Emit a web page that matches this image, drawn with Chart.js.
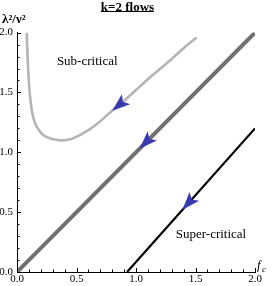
<!DOCTYPE html>
<html>
<head>
<meta charset="utf-8">
<script src="https://cdn.jsdelivr.net/npm/chart.js@4.4.0/dist/chart.umd.min.js"></script>
<style>
  html, body { margin: 0; padding: 0; background: #fff; }
  canvas { display: block; }
</style>
</head>
<body>
<canvas id="flows" width="273" height="286"></canvas>
<script>
// sub-critical flow (light grey curve)
const subX = [0.082, 0.088, 0.096, 0.105, 0.115, 0.13, 0.15, 0.18, 0.22, 0.27, 0.33, 0.38, 0.45, 0.52, 0.60, 0.70, 0.78, 0.90, 1.00, 1.10, 1.20, 1.30, 1.40, 1.51];
const subY = [2.00, 1.82, 1.65, 1.52, 1.42, 1.32, 1.25, 1.19, 1.145, 1.12, 1.105, 1.10, 1.11, 1.14, 1.185, 1.26, 1.33, 1.43, 1.52, 1.61, 1.695, 1.78, 1.87, 1.96];
// critical flow (thick dark grey line)
const critX = [0, 2.0];
const critY = [0, 2.0];
// super-critical flow (black line)
const superX = [0.925, 2.0];
const superY = [0, 1.2];

const tickVals = [0, 0.5, 1, 1.5, 2];
const tickLabels = ['0.0', '0.5', '1.0', '1.5', '2.0'];

// arrowheads: which series, and f_c of the tip
const arrowSeries = [0, 1, 2];
const arrowAt = [0.80, 1.03, 1.39];

const regionNames = ['Sub-critical', 'Super-critical'];
const regionX = [0.59, 1.63];
const regionY = [1.76, 0.31];

const serif = "'Liberation Serif', 'Times New Roman', serif";
const series = [[subX, subY], [critX, critY], [superX, superY]];
const pts = (xs, ys) => xs.map((x, i) => ({ x: x, y: ys[i] }));

function valueAt(xs, ys, f) {
    for (let i = 0; i < xs.length - 1; i++) {
        if (f >= xs[i] && f <= xs[i + 1]) {
            const t = (f - xs[i]) / (xs[i + 1] - xs[i]);
            return ys[i] + t * (ys[i + 1] - ys[i]);
        }
    }
    return ys[ys.length - 1];
}

const axesAndMarks = {
    id: 'axesAndMarks',
    afterDatasetsDraw(chart) {
        const ctx = chart.ctx;
        const xs = chart.scales.x, ys = chart.scales.y;
        ctx.save();
        // arrowheads pointing down the flow
        ctx.fillStyle = '#3a3aae';
        arrowSeries.forEach((s, k) => {
            const [sx, sy] = series[s];
            const f = arrowAt[k];
            const tx = xs.getPixelForValue(f), ty = ys.getPixelForValue(valueAt(sx, sy, f));
            const bx = xs.getPixelForValue(f + 0.08), by = ys.getPixelForValue(valueAt(sx, sy, f + 0.08));
            let ux = bx - tx, uy = by - ty;
            const len = Math.hypot(ux, uy);
            ux /= len; uy /= len;
            const nx = -uy, ny = ux;
            const L = 18, W = 13, N = 14;
            ctx.beginPath();
            ctx.moveTo(tx, ty);
            ctx.lineTo(tx + ux * L + nx * W / 2, ty + uy * L + ny * W / 2);
            ctx.lineTo(tx + ux * N, ty + uy * N);
            ctx.lineTo(tx + ux * L - nx * W / 2, ty + uy * L - ny * W / 2);
            ctx.closePath();
            ctx.fill();
        });
        // region labels
        ctx.fillStyle = '#000';
        ctx.font = '13px ' + serif;
        ctx.textAlign = 'center';
        ctx.textBaseline = 'middle';
        regionNames.forEach((name, i) => {
            ctx.fillText(name, xs.getPixelForValue(regionX[i]), ys.getPixelForValue(regionY[i]));
        });
        ctx.restore();
    },
    afterDraw(chart) {
        const ctx = chart.ctx;
        const xs = chart.scales.x, ys = chart.scales.y;
        const x0 = xs.getPixelForValue(0), y0 = ys.getPixelForValue(0);
        ctx.save();
        ctx.strokeStyle = '#000';
        ctx.lineWidth = 1;
        ctx.beginPath();
        for (let i = 0; i <= 20; i++) {
            const v = i / 10;
            const len = i % 5 === 0 ? 4 : 2.5;
            const px = Math.round(xs.getPixelForValue(v)) + 0.5;
            ctx.moveTo(px, y0);
            ctx.lineTo(px, y0 - len);
            const py = Math.round(ys.getPixelForValue(v)) + 0.5;
            ctx.moveTo(x0, py);
            ctx.lineTo(x0 + len, py);
        }
        ctx.stroke();

        // underline of the title
        const tb = chart.titleBlock;
        ctx.font = 'bold 13px ' + serif;
        const w = ctx.measureText(chart.options.plugins.title.text).width;
        const cx = (tb.left + tb.right) / 2;
        ctx.fillStyle = '#000';
        ctx.fillRect(Math.round(cx - w / 2), tb.top + 11, Math.round(w), 1);

        // axis labels
        ctx.textAlign = 'left';
        ctx.textBaseline = 'alphabetic';
        ctx.font = 'bold 13px ' + serif;
        ctx.fillText('λ²/ν²', 2, 23);
        ctx.font = 'italic 13px ' + serif;
        ctx.fillText('f', xs.right + 2, y0 - 3);
        ctx.font = 'italic 9px ' + serif;
        ctx.fillText('c', xs.right + 7, y0);
        ctx.restore();
    }
};

const tickOpts = {
    autoSkip: false,
    maxRotation: 0,
    stepSize: 0.5,
    color: '#000',
    font: { family: serif, size: 11 },
    callback: v => {
        const i = tickVals.indexOf(Math.round(v * 10) / 10);
        return i >= 0 ? tickLabels[i] : '';
    }
};

new Chart(document.getElementById('flows'), {
    type: 'scatter',
    data: {
        datasets: [
            { label: 'super', data: pts(superX, superY), showLine: true, borderColor: '#000', borderWidth: 2.2, pointRadius: 0 },
            { label: 'sub', data: pts(subX, subY), showLine: true, borderColor: '#b4b4b4', borderWidth: 2.6, pointRadius: 0, tension: 0.35 },
            { label: 'critical', data: pts(critX, critY), showLine: true, borderColor: '#707070', borderWidth: 4, pointRadius: 0 }
        ]
    },
    options: {
        responsive: false,
        animation: false,
        layout: { padding: { left: 0, right: 18, top: 0, bottom: 0 } },
        plugins: {
            legend: { display: false },
            tooltip: { enabled: false },
            title: {
                display: true,
                text: 'k=2 flows',
                color: '#000',
                font: { family: serif, size: 13, weight: 'bold', lineHeight: 1.2 },
                padding: { top: 0, bottom: 17 }
            }
        },
        scales: {
            x: {
                type: 'linear', min: 0, max: 2,
                grid: { display: false, drawTicks: false },
                border: { display: true, color: '#000', width: 1 },
                ticks: Object.assign({}, tickOpts, { padding: 1 }),
                afterFit: s => { s.height = 14; }
            },
            y: {
                type: 'linear', min: 0, max: 2,
                grid: { display: false, drawTicks: false },
                border: { display: true, color: '#000', width: 1 },
                ticks: Object.assign({}, tickOpts, { padding: 4 }),
                afterFit: s => { s.width = 17; }
            }
        }
    },
    plugins: [axesAndMarks]
});
</script>
</body>
</html>
